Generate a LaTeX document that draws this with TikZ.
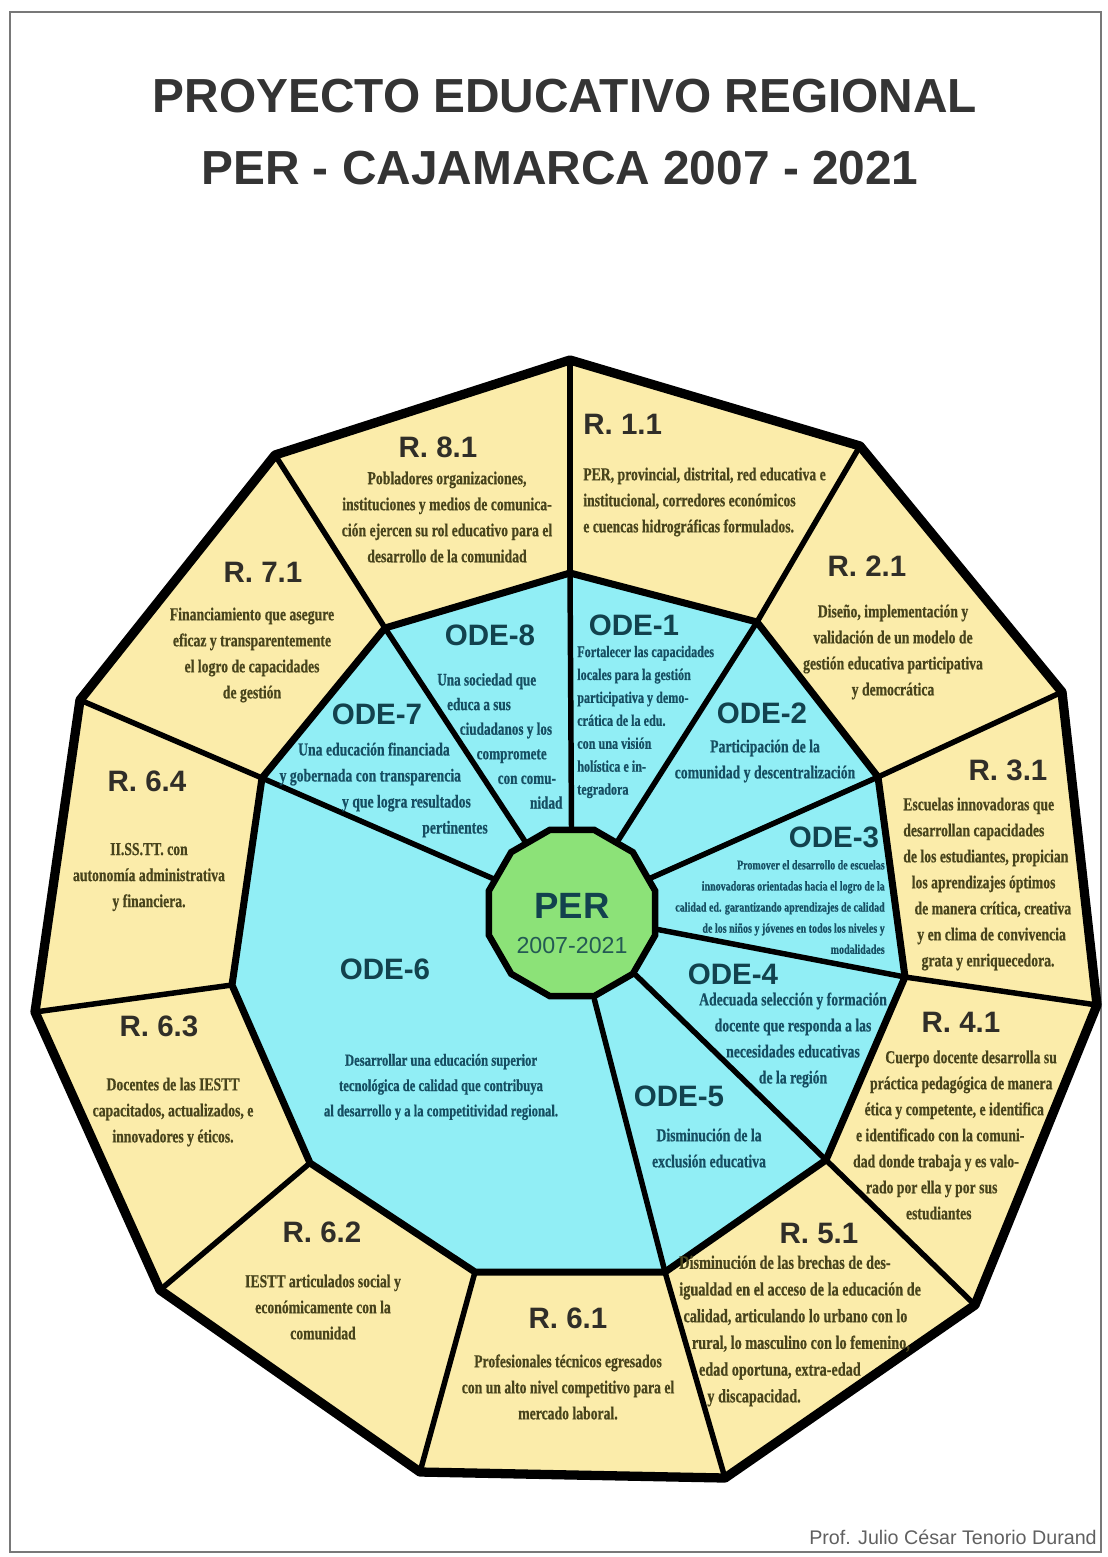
\documentclass[tikz,border=0pt]{standalone}
\usepackage{fontspec}
\setmainfont{Liberation Serif}
\setsansfont{Liberation Sans}
\newfontfamily\condfont{Liberation Serif}[FakeStretch=0.75,FakeBold=0.6]
\usepackage{tikz}
\usetikzlibrary{shapes.geometric}

\definecolor{ryellow}{RGB}{251,236,170}
\definecolor{odeblue}{RGB}{145,238,245}
\definecolor{pergreen}{RGB}{140,226,120}
\definecolor{rtextcol}{RGB}{72,68,28}
\definecolor{odetextcol}{RGB}{22,78,98}
\definecolor{odelabcol}{RGB}{18,66,78}
\definecolor{rlabcol}{RGB}{48,46,40}
\definecolor{titlecol}{RGB}{52,52,52}
\definecolor{framecol}{RGB}{120,120,120}

% fixed blank width inside a line of text
\newcommand{\gap}[1]{\rule{#1}{0pt}}

\tikzset{
  titletext/.style={font=\sffamily\bfseries\fontsize{34}{37}\selectfont, text=titlecol, inner sep=0pt},
  rlabel/.style={font=\sffamily\bfseries\fontsize{21}{24}\selectfont, text=rlabcol, inner sep=0pt},
  rtext/.style={font=\condfont\bfseries\fontsize{13}{18.5}\selectfont, text=rtextcol, align=center, inner sep=0pt},
  odelabel/.style={font=\sffamily\bfseries\fontsize{21}{24}\selectfont, text=odelabcol, inner sep=0pt},
  odetext/.style={font=\condfont\bfseries\fontsize{13}{18.5}\selectfont, text=odetextcol, align=center, inner sep=0pt},
  outerline/.style={line width=6.6pt, line join=round},
  innerline/.style={line width=5pt, line join=round},
  spoke/.style={line width=3.9pt, line cap=round},
  perpoly/.style={regular polygon, regular polygon sides=12, minimum size=4.3cm, inner sep=0pt,
    fill=pergreen, draw, line width=4.6pt}
}

\begin{document}
\begin{tikzpicture}[x=0.025cm,y=-0.025cm]
  \useasboundingbox (0,0) rectangle (1107,1557);
  % page frame
  \draw[framecol, line width=0.8pt] (10,12) rectangle (1101,1552);

  % title
  \node[titletext] (title1) at (565,96) {PROYECTO EDUCATIVO REGIONAL};
  \node[titletext] (title2) at (560,168) {PER - CAJAMARCA 2007 - 2021};

  % corners of the outer ring
  \coordinate (o1) at (570,360);
  \coordinate (o2) at (860,446);
  \coordinate (o3) at (1062,692);
  \coordinate (o4) at (1097,1005);
  \coordinate (o5) at (975,1305);
  \coordinate (o6) at (725,1478);
  \coordinate (o7) at (420,1472);
  \coordinate (o8) at (160,1290);
  \coordinate (o9) at (35,1012);
  \coordinate (o10) at (80,700);
  \coordinate (o11) at (275,455);

  % corners of the inner ring
  \coordinate (i1) at (570,573);
  \coordinate (i2) at (757,622);
  \coordinate (i3) at (878,777);
  \coordinate (i4) at (905,977);
  \coordinate (i5) at (826,1160);
  \coordinate (i6) at (665,1272);
  \coordinate (i7) at (475,1272);
  \coordinate (i8) at (310,1163);
  \coordinate (i9) at (232,985);
  \coordinate (i10) at (262,778);
  \coordinate (i11) at (385,628);

  % the two rings
  \filldraw[outerline, fill=ryellow] (o1) -- (o2) -- (o3) -- (o4) -- (o5) -- (o6)
    -- (o7) -- (o8) -- (o9) -- (o10) -- (o11) -- cycle;
  \filldraw[innerline, fill=odeblue] (i1) -- (i2) -- (i3) -- (i4) -- (i5) -- (i6)
    -- (i7) -- (i8) -- (i9) -- (i10) -- (i11) -- cycle;

  % spokes of the outer ring
  \draw[spoke] (o1) -- (i1);
  \draw[spoke] (o2) -- (i2);
  \draw[spoke] (o3) -- (i3);
  \draw[spoke] (o4) -- (i4);
  \draw[spoke] (o5) -- (i5);
  \draw[spoke] (o6) -- (i6);
  \draw[spoke] (o7) -- (i7);
  \draw[spoke] (o8) -- (i8);
  \draw[spoke] (o9) -- (i9);
  \draw[spoke] (o10) -- (i10);
  \draw[spoke] (o11) -- (i11);

  % centre
  \node[perpoly] (per) at (572,913) {};
  \node[font=\sffamily\bfseries\fontsize{26}{28}\selectfont, text=odelabcol, inner sep=0pt] (pername) at (572,906) {PER};
  \node[font=\sffamily\fontsize{16.5}{18}\selectfont, text=odelabcol!85!pergreen, inner sep=0pt] (peryears) at (572,946) {2007-2021};

  % spokes of the inner ring
  \draw[spoke] (i1) -- (per);
  \draw[spoke] (i2) -- (per);
  \draw[spoke] (i3) -- (per);
  \draw[spoke] (i4) -- (per);
  \draw[spoke] (i5) -- (per);
  \draw[spoke] (i6) -- (per);
  \draw[spoke] (i10) -- (per);
  \draw[spoke] (i11) -- (per);

  % results, outer ring
  \node[rlabel] (r81) at (438,447) {R. 8.1};
  \node[rtext] (r81t) at (447,517) {Pobladores organizaciones,\\instituciones y medios de comunica-\\ción ejercen su rol educativo para el\\desarrollo de la comunidad};

  \node[rlabel, anchor=west] (r11) at (583,424) {R. 1.1};
  \node[rtext, align=left, anchor=west] (r11t) at (583,502) {PER, provincial, distrital, red educativa e\\institucional, corredores económicos\\e cuencas hidrográficas formulados.};

  \node[rlabel] (r21) at (867,566) {R. 2.1};
  \node[rtext] (r21t) at (893,652) {Diseño, implementación y\\validación de un modelo de\\gestión educativa participativa\\y democrática};

  \node[rlabel] (r31) at (1008,770) {R. 3.1};
  \node[rtext, align=left, anchor=west] (r31t) at (903,884) {Escuelas innovadoras que\\desarrollan capacidades\\de los estudiantes, propician\\\gap{6pt}los aprendizajes óptimos\\\gap{8pt}de manera crítica, creativa\\\gap{10pt}y en clima de convivencia\\\gap{13pt}grata y enriquecedora.};

  \node[rlabel] (r41) at (961,1022) {R. 4.1};
  \node[rtext] (r41t) at (950,1135) {\gap{30pt}Cuerpo docente desarrolla su\\\gap{16pt}práctica pedagógica de manera\\\gap{6pt}ética y competente, e identifica\\e identificado con la comuni-\gap{14pt}\\dad donde trabaja y es valo-\gap{20pt}\\rado por ella y por sus\gap{26pt}\\estudiantes\gap{16pt}};

  \node[rlabel] (r51) at (819,1233) {R. 5.1};
  \node[rtext, align=left, anchor=west, font=\condfont\bfseries\fontsize{13.5}{19}\selectfont] (r51t) at (679,1331) {Disminución de las brechas de des-\\igualdad en el acceso de la educación de\\\gap{3pt}calidad, articulando lo urbano con lo\\\gap{9pt}rural, lo masculino con lo femenino,\\\gap{14pt}edad oportuna, extra-edad\\\gap{20pt}y discapacidad.};

  \node[rlabel] (r61) at (568,1318) {R. 6.1};
  \node[rtext] (r61t) at (568,1387) {Profesionales técnicos egresados\\con un alto nivel competitivo para el\\mercado laboral.};

  \node[rlabel] (r62) at (322,1232) {R. 6.2};
  \node[rtext] (r62t) at (323,1307) {IESTT articulados social y\\económicamente con la\\comunidad};

  \node[rlabel] (r63) at (159,1026) {R. 6.3};
  \node[rtext] (r63t) at (173,1112) {Docentes de las IESTT\\capacitados, actualizados, e\\innovadores y éticos.};

  \node[rlabel] (r64) at (147,781) {R. 6.4};
  \node[rtext] (r64t) at (149,877) {II.SS.TT. con\\autonomía administrativa\\y financiera.};

  \node[rlabel] (r71) at (263,572) {R. 7.1};
  \node[rtext] (r71t) at (252,655) {Financiamiento que asegure\\eficaz y transparentemente\\el logro de capacidades\\de gestión};

  % objectives, inner ring
  \node[odelabel] (ode8) at (490,635) {ODE-8};
  \node[odetext, align=left, anchor=west, font=\condfont\bfseries\fontsize{12.5}{17.5}\selectfont] (ode8t) at (437,741) {Una sociedad que\\\gap{7pt}educa a sus\\\gap{16pt}ciudadanos y los\\\gap{28pt}compromete\\\gap{43pt}con comu-\\\gap{66pt}nidad};

  \node[odelabel] (ode7) at (377,714) {ODE-7};
  \node[odetext, align=right, anchor=east] (ode7t) at (488,790) {Una educación financiada\gap{27pt}\\y gobernada con transparencia\gap{19pt}\\y que logra resultados\gap{12pt}\\pertinentes};

  \node[odelabel] (ode1) at (634,625) {ODE-1};
  \node[odetext, align=left, anchor=west, font=\condfont\bfseries\fontsize{11.5}{16.3}\selectfont] (ode1t) at (577,722) {Fortalecer las capacidades\\locales para la gestión\\participativa y demo-\\crática de la edu.\\con una visión\\holística e in-\\tegradora};

  \node[odelabel] (ode2) at (762,713) {ODE-2};
  \node[odetext] (ode2t) at (765,761) {Participación de la\\comunidad y descentralización};

  \node[odelabel] (ode3) at (834,837) {ODE-3};
  \node[odetext, align=right, anchor=east, font=\condfont\bfseries\fontsize{9.5}{15}\selectfont] (ode3t) at (885,907) {Promover el desarrollo de escuelas\\innovadoras orientadas hacia el logro de la\\calidad ed. garantizando aprendizajes de calidad\\de los niños y jóvenes en todos los niveles y\\modalidades};

  \node[odelabel] (ode4) at (733,974) {ODE-4};
  \node[odetext] (ode4t) at (793,1040) {Adecuada selección y formación\\docente que responda a las\\necesidades educativas\\de la región};

  \node[odelabel] (ode5) at (679,1096) {ODE-5};
  \node[odetext] (ode5t) at (709,1148) {Disminución de la\\exclusión educativa};

  \node[odelabel] (ode6) at (385,969) {ODE-6};
  \node[odetext, font=\condfont\bfseries\fontsize{12}{18}\selectfont] (ode6t) at (441,1087) {Desarrollar una educación superior\\tecnológica de calidad que contribuya\\al desarrollo y a la competitividad regional.};

  % author
  \node[font=\sffamily\fontsize{14}{16}\selectfont, text=framecol!80!black, inner sep=0pt] (author) at (953,1537) {Prof. Julio César Tenorio Durand};
\end{tikzpicture}
\end{document}
